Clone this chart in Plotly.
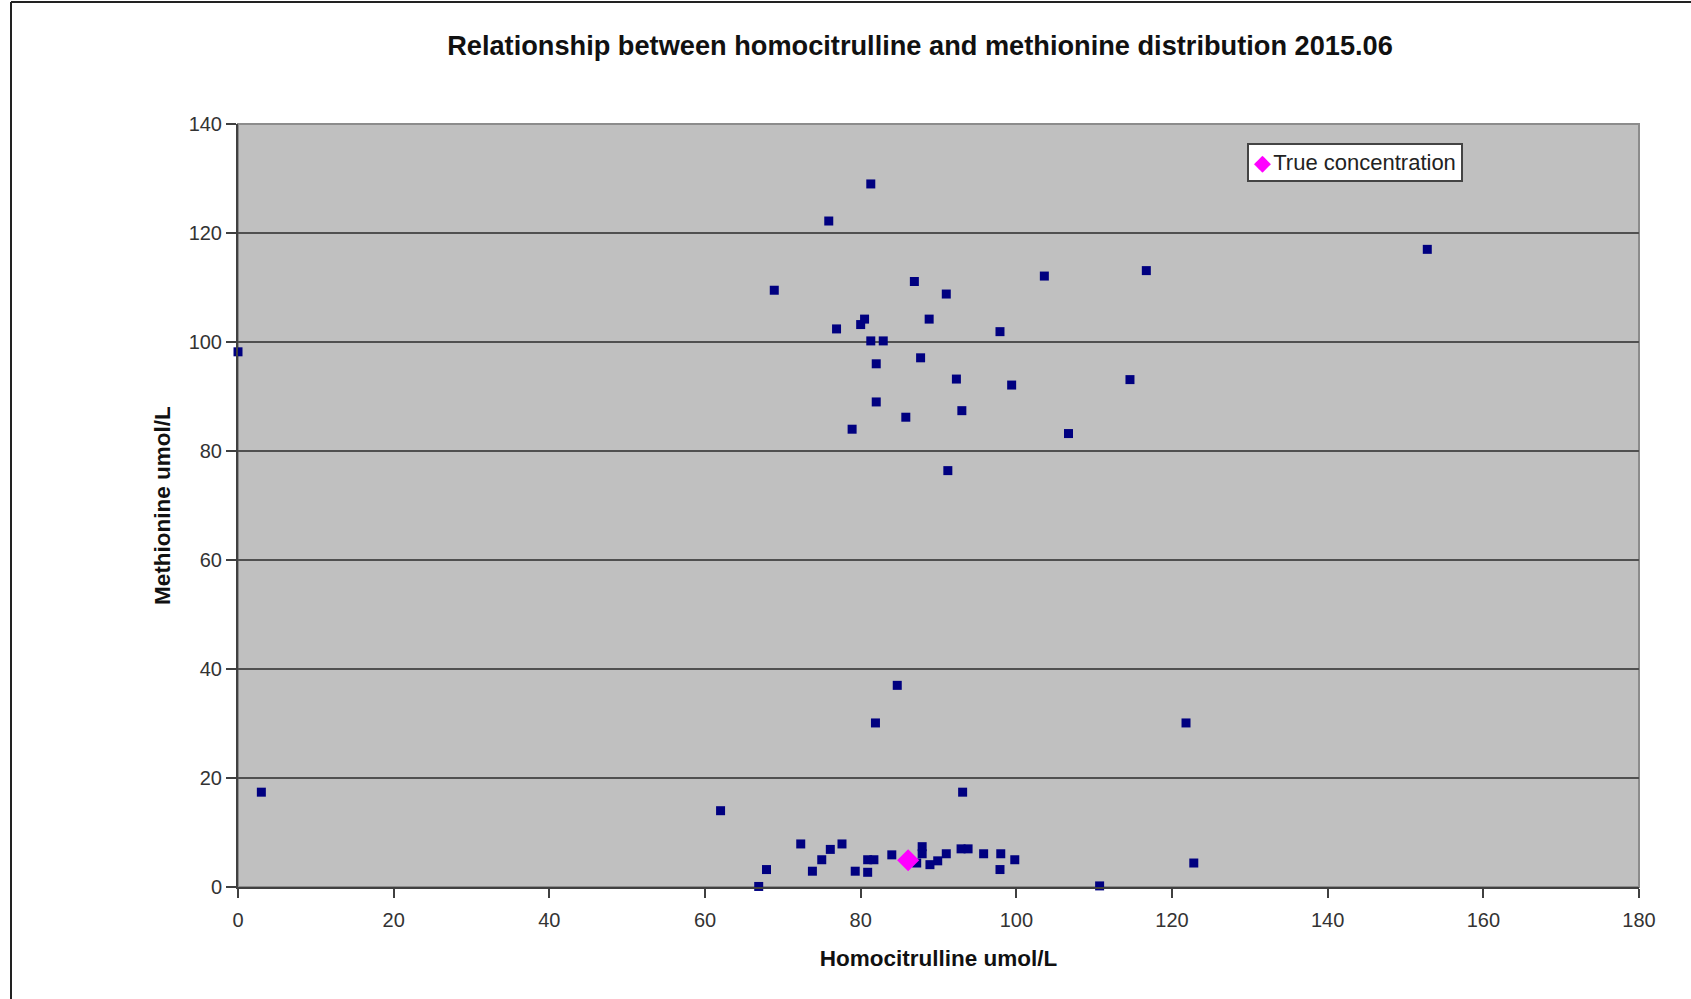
import plotly.graph_objects as go

# Homocitrulline (x) and methionine (y) results, umol/L
homocitrulline = [
    81.3, 75.9, 152.8, 116.7, 103.6, 86.9, 68.9, 91.0, 80.5, 88.8,
    80.0, 76.9, 97.9, 81.3, 82.9, 0.0, 87.7, 82.0, 92.3, 114.6,
    99.4, 82.0, 93.0, 85.8, 78.9, 106.7, 91.2,
    84.7, 81.9, 121.8, 3.0, 93.1, 62.0,
    72.3, 77.6, 87.9, 92.9, 93.8, 76.1, 87.9, 91.0, 95.8, 98.0,
    84.0, 75.0, 80.9, 81.7, 99.8, 89.9, 87.2, 122.8, 88.9, 67.9,
    97.9, 73.8, 79.3, 80.9, 66.9, 110.7,
]
methionine = [
    129.0, 122.2, 117.0, 113.1, 112.1, 111.1, 109.5, 108.8, 104.2, 104.2,
    103.2, 102.4, 101.9, 100.2, 100.2, 98.2, 97.1, 96.0, 93.2, 93.1,
    92.1, 89.0, 87.4, 86.2, 84.0, 83.2, 76.4,
    37.0, 30.1, 30.1, 17.4, 17.4, 14.0,
    7.9, 7.9, 7.4, 7.0, 7.0, 6.9, 6.1, 6.1, 6.1, 6.1,
    5.9, 5.0, 5.0, 5.0, 5.0, 4.8, 4.4, 4.4, 4.1, 3.2,
    3.2, 2.9, 2.9, 2.7, 0.1, 0.2,
]

true_x = [86.1]
true_y = [4.9]

x_ticks = [0, 20, 40, 60, 80, 100, 120, 140, 160, 180]
y_ticks = [0, 20, 40, 60, 80, 100, 120, 140]

FONT = "Arial, 'Liberation Sans', sans-serif"

fig = go.Figure()
fig.add_trace(go.Scatter(
    x=homocitrulline, y=methionine, mode="markers",
    marker=dict(symbol="square", size=9, color="#000080"),
    cliponaxis=False, showlegend=False, name="Results",
))
fig.add_trace(go.Scatter(
    x=true_x, y=true_y, mode="markers",
    marker=dict(symbol="diamond", size=17, color="#ff00ff"),
    cliponaxis=False, showlegend=False, name="True concentration",
))

W, H = 1691, 999
L, R, T, B = 238, 52, 124, 112
pw, ph = W - L - R, H - T - B


def px_x(p):
    return (p - L) / pw


def px_y(p):
    return (H - B - p) / ph


fig.update_layout(
    width=W, height=H,
    margin=dict(l=L, r=R, t=T, b=B, autoexpand=False),
    paper_bgcolor="white",
    plot_bgcolor="#c0c0c0",
    font=dict(family=FONT, color="#222"),
    title=dict(
        text="<b>Relationship between homocitrulline and methionine distribution 2015.06</b>",
        x=920 / W, xanchor="center", xref="container",
        y=1 - 45 / H, yanchor="middle", yref="container",
        font=dict(size=27.2, color="#111", family=FONT),
    ),
    xaxis=dict(
        range=[0, 180], tickvals=x_ticks, showgrid=False, zeroline=False,
        showline=True, linecolor="#404040", linewidth=2,
        ticks="outside", ticklen=9, tickwidth=1.5, tickcolor="#404040",
        tickfont=dict(size=20, color="#333"), ticklabelstandoff=5,
        title=dict(text="<b>Homocitrulline umol/L</b>", font=dict(size=22.5, color="#111"), standoff=20),
    ),
    yaxis=dict(
        range=[0, 140], tickvals=y_ticks, showgrid=True, gridcolor="#505050", gridwidth=2,
        zeroline=False, showline=True, linecolor="#404040", linewidth=2,
        ticks="outside", ticklen=10, tickwidth=1.5, tickcolor="#404040",
        tickfont=dict(size=20, color="#333"),
        title=dict(text="<b>Methionine umol/L</b>", font=dict(size=22.5, color="#111"), standoff=12),
    ),
    shapes=[
        # plot-area frame (top and right edges)
        dict(type="rect", xref="paper", yref="paper", x0=0, x1=1, y0=0, y1=1,
             line=dict(color="#8c8c8c", width=2), layer="below"),
        # page frame
        dict(type="line", xref="paper", yref="paper",
             x0=px_x(11), x1=px_x(W), y0=px_y(2), y1=px_y(2),
             line=dict(color="#222", width=2)),
        dict(type="line", xref="paper", yref="paper",
             x0=px_x(11), x1=px_x(11), y0=px_y(2), y1=px_y(H),
             line=dict(color="#222", width=2)),
    ],
    annotations=[
        dict(
            text="<span style='color:#ff00ff'>◆</span><span style='font-size:8px'> </span>True concentration",
            xref="paper", yref="paper", x=px_x(1247), y=px_y(143),
            xanchor="left", yanchor="top", showarrow=False,
            font=dict(size=22, color="#222", family=FONT),
            bgcolor="white", bordercolor="#444", borderwidth=2, borderpad=5,
        ),
    ],
)

fig.write_html("out.html")
